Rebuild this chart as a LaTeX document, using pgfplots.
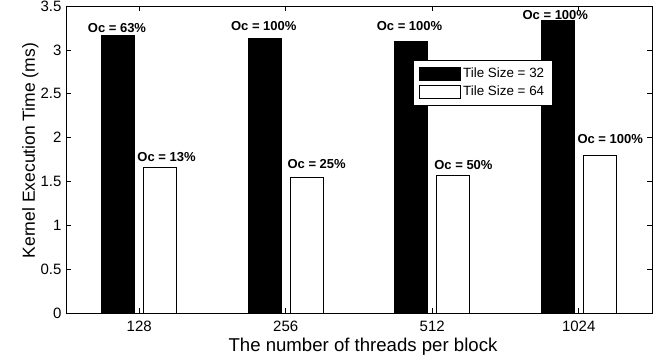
\documentclass[border=0pt]{standalone}
\usepackage{fontspec}
\setmainfont{Liberation Sans}
\usepackage{pgfplots}
\pgfplotsset{compat=1.18}

\begin{document}
\begin{tikzpicture}
\begin{axis}[
  scale only axis,
  width=586pt, height=307.3pt,
  xmin=0.5, xmax=4.5,
  ymin=0, ymax=3.5,
  xtick={1,2,3,4},
  xticklabels={128,256,512,1024},
  ytick={0,0.5,1,1.5,2,2.5,3,3.5},
  /pgf/number format/assume math mode=true,
  tick align=inside,
  tick pos=both,
  major tick length=5pt,
  axis line style={line width=0.9pt},
  every tick/.style={black, line width=0.7pt},
  tick label style={font=\fontsize{15}{18}\selectfont},
  xticklabel style={anchor=base, inner sep=0pt, yshift=-18.3pt},
  yticklabel style={anchor=east, inner sep=0pt, xshift=-4.3pt},
  xlabel={The number of threads per block},
  ylabel={Kernel Execution Time (ms)},
  xlabel style={font=\fontsize{18.6}{22}\selectfont, at={(axis description cs:0.5068,-0.1227)}, anchor=base, inner sep=0pt},
  ylabel style={font=\fontsize{17.5}{21}\selectfont, at={(axis description cs:-0.0529,0.5293)}, anchor=base, inner sep=0pt},
  clip=false,
  legend style={
    at={(0.592,0.824)}, anchor=north west,
    draw=black, line width=0.8pt,
    font=\fontsize{13.4}{16}\selectfont,
    inner xsep=6pt, inner ysep=5.5pt,
    row sep=3pt,
    cells={anchor=west},
  },
]
% Tile Size = 32
\addplot[ybar, bar shift=0pt, bar width=33pt, fill=black, draw=black, line width=0.8pt,
  legend image code/.code={\draw[fill=black, draw=black, line width=0.8pt] (0pt,-6.5pt) rectangle (41pt,6.5pt);}]
  table[x=x, y=t] {
x     t
0.857 3.162
1.857 3.128
2.857 3.101
3.857 3.333
};
\addlegendentry{Tile Size = 32}
% Tile Size = 64
\addplot[ybar, bar shift=0pt, bar width=33pt, fill=white, draw=black, line width=0.8pt,
  legend image code/.code={\draw[fill=white, draw=black, line width=0.8pt] (0pt,-6.5pt) rectangle (41pt,6.5pt);}]
  table[x=x, y=t] {
x     t
1.143 1.663
2.143 1.549
3.143 1.572
4.143 1.800
};
\addlegendentry{Tile Size = 64}
% occupancy annotations
\addplot[draw=none, mark=none, forget plot,
  point meta=explicit symbolic,
  nodes near coords={Oc = \pgfplotspointmeta\%},
  nodes near coords style={anchor=base, inner sep=0pt,
    font=\fontsize{13}{15}\selectfont\bfseries}]
  table[x=x, y=y, meta=oc] {
x     y     oc
0.848 3.200 63
1.850 3.226 100
2.845 3.218 100
3.840 3.349 100
1.186 1.734 13
2.211 1.651 25
3.213 1.640 50
4.215 1.936 100
};
\end{axis}
\pgfresetboundingbox
\path[use as bounding box] (-66pt,-46.7pt) rectangle (604pt,313.3pt);
\end{tikzpicture}
\end{document}
